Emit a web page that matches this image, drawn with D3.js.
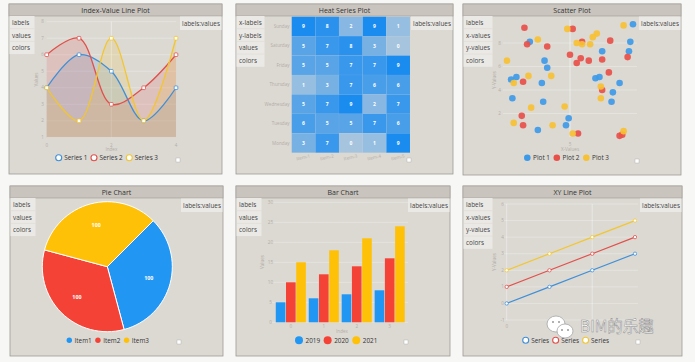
<!DOCTYPE html>
<html>
<head>
<meta charset="utf-8">
<script src="https://cdn.jsdelivr.net/npm/d3@7"></script>
<style>
  body { margin: 0; background: #f7f7f5; }
  svg { display: block; font-family: "Open Sans", sans-serif; }
</style>
</head>
<body>
<div id="vis"></div>
<script>
// ---------------- data ----------------
// Index-Value line plot
var lineIndex = [0, 1, 2, 3, 4];
var lineNames = ['Series 1', 'Series 2', 'Series 3'];
var lineSeries1 = [4, 6, 5, 2, 4];
var lineSeries2 = [6, 7, 3, 4, 6];
var lineSeries3 = [4, 2, 7, 2, 7];
var lineYTicks = [1, 2, 3, 4, 5, 6, 7, 8];
var lineXTicks = [0, 2, 4];

// Heat series plot
var heatXLabels = ['Item-1', 'Item-2', 'Item-3', 'Item-4', 'Item-5'];
var heatYLabels = ['Sunday', 'Saturday', 'Friday', 'Thursday', 'Wednesday', 'Tuesday', 'Monday'];
var heatSunday = [9, 8, 2, 9, 1];
var heatSaturday = [5, 7, 8, 3, 0];
var heatFriday = [5, 5, 7, 7, 9];
var heatThursday = [1, 3, 7, 6, 6];
var heatWednesday = [5, 7, 9, 2, 7];
var heatTuesday = [6, 5, 5, 7, 6];
var heatMonday = [3, 7, 0, 1, 9];

// Scatter plot
var scatterNames = ['Plot 1', 'Plot 2', 'Plot 3'];
var scatter1X = [9.7, 2.0, 9.5, 9.4, 7.4, 3.1, 3.3, 0.6, 1.0, 2.9, 6.9, 7.2, 8.7, 8.2, 0.7, 3.0, 8.1, 4.9, 4.7, 2.6];
var scatter1Y = [9.6, 8.1, 8.1, 7.3, 7.3, 6.5, 5.9, 4.9, 5.1, 4.6, 5.0, 5.1, 4.6, 3.8, 3.3, 3.0, 3.0, 1.6, 1.0, 0.6];
var scatter2X = [1.6, 5.2, 1.8, 3.3, 5.9, 8.0, 5.0, 5.5, 5.8, 6.4, 7.4, 9.3, 1.5, 7.9, 7.4, 1.4, 1.5, 5.6, 8.7, 8.9];
var scatter2Y = [9.3, 9.2, 7.9, 7.7, 8.1, 8.2, 7.0, 6.3, 6.7, 6.5, 6.6, 6.8, 4.7, 5.5, 4.0, 1.8, 1.0, 0.3, 0.1, 0.2];
var scatter3X = [9.0, 4.8, 2.6, 7.0, 6.7, 5.5, 5.9, 6.5, 0.3, 1.9, 0.8, 3.6, 7.3, 7.3, 2.1, 4.6, 0.8, 3.7, 5.2, 9.0];
var scatter3Y = [9.5, 9.2, 8.3, 8.8, 8.5, 8.0, 7.9, 7.9, 6.5, 5.2, 4.6, 5.2, 4.3, 3.3, 2.5, 2.6, 1.2, 1.0, 0.3, 0.5];
var scatterYTicks = [2, 4, 6, 8];
var scatterXTicks = [5];

// Pie chart
var pieLabels = ['Item1', 'Item2', 'Item3'];
var pieValues = [100, 100, 100];

// Bar chart
var barIndex = [0, 1, 2, 3];
var barNames = ['2019', '2020', '2021'];
var bar2019 = [5, 6, 7, 8];
var bar2020 = [10, 12, 14, 16];
var bar2021 = [15, 18, 21, 24];
var barYTicks = [0, 5, 10, 15, 20, 25, 30];

// XY line plot
var xyNames = ['Series', 'Series', 'Series'];
var xyX = [0, 1, 2, 3];
var xyY1 = [0, 1, 2, 3];
var xyY2 = [1, 2, 3, 4];
var xyY3 = [2, 3, 4, 5];
var xyYTicks = [-1, 0, 1, 2, 3, 4, 5, 6];
var xyXTicks = [0, 2];      // gridlines
var xyXLabels = [0];        // the "2" label sits under the watermark

// colours
var blue = '#2196f3', red = '#f44336', yellow = '#ffc107';
var lineBlue = '#3f8fd8', lineRed = '#e0504c', lineYellow = '#f2c62f';
var tickColor = '#b3aea6';

// ---------------- svg ----------------
var svg = d3.select('#vis').append('svg')
    .attr('width', 695)
    .attr('height', 362);

// draw a node frame (title bar, input labels, labels:values box, checkbox)
function panel(p) {
    var g = svg.append('g');
    g.append('rect')
        .attr('x', p.x).attr('y', p.y).attr('width', p.w).attr('height', p.h)
        .attr('fill', '#dcd9d3').attr('stroke', '#9f9b94').attr('stroke-width', 0.8);
    g.append('rect')
        .attr('x', p.x).attr('y', p.y).attr('width', p.w).attr('height', 12)
        .attr('fill', '#c9c5be').attr('stroke', '#9f9b94').attr('stroke-width', 0.6);
    g.append('text')
        .attr('x', p.x + p.w / 2).attr('y', p.y + 9)
        .attr('text-anchor', 'middle').attr('font-size', 7).attr('font-weight', 500)
        .attr('fill', '#333').text(p.title);

    // input port labels
    var rowH = 12.7;
    g.append('rect')
        .attr('x', p.x + 0.5).attr('y', p.y + 12).attr('width', p.lw).attr('height', rowH * p.inputs.length)
        .attr('fill', '#ebe9e5');
    p.inputs.forEach(function(s, i) {
        if (i > 0) {
            g.append('line')
                .attr('x1', p.x + 0.5).attr('x2', p.x + 0.5 + p.lw)
                .attr('y1', p.y + 12 + rowH * i).attr('y2', p.y + 12 + rowH * i)
                .attr('stroke', '#dcd9d3').attr('stroke-width', 0.6);
        }
        g.append('text')
            .attr('x', p.x + 3).attr('y', p.y + 12 + rowH * i + 8.8)
            .attr('font-size', 6.4).attr('fill', '#444').text(s);
    });

    // output port
    g.append('rect')
        .attr('x', p.x + p.w - 42).attr('y', p.y + 12.5).attr('width', 41.5).attr('height', 13.5)
        .attr('fill', '#ebe9e5');
    g.append('text')
        .attr('x', p.x + p.w - 21).attr('y', p.y + 21.8)
        .attr('text-anchor', 'middle').attr('font-size', 6.4).attr('fill', '#444').text('labels:values');

    // little checkbox
    g.append('rect')
        .attr('x', p.x + p.w - 46).attr('y', p.y + p.h - 16).attr('width', 4).attr('height', 4)
        .attr('fill', '#fff').attr('stroke', '#aaa').attr('stroke-width', 0.4);
    return g;
}

// legend laid out left to right
function legend(g, names, colors, x0, y, r, open) {
    var x = x0;
    names.forEach(function(n, i) {
        g.append('circle')
            .attr('cx', x + r).attr('cy', y).attr('r', r)
            .attr('fill', open ? '#fff' : colors[i])
            .attr('stroke', colors[i]).attr('stroke-width', open ? 1.1 : 0);
        var t = g.append('text')
            .attr('x', x + 2 * r + 2.5).attr('y', y + 2.3)
            .attr('font-size', 6.4).attr('fill', '#333').text(n);
        x = x + 2 * r + 2.5 + t.node().getComputedTextLength() + 3.5;
    });
}

function tickText(g, x, y, s, anchor, rot) {
    var t = g.append('text')
        .attr('x', x).attr('y', y)
        .attr('text-anchor', anchor || 'middle')
        .attr('font-size', 4.6).attr('fill', tickColor).text(s);
    if (rot) t.attr('transform', 'rotate(' + rot + ',' + x + ',' + y + ')');
    return t;
}

/************************ 1. Index-Value Line Plot ************************/
var g1 = panel({ x: 9, y: 4, w: 213, h: 170, title: 'Index-Value Line Plot', lw: 25, inputs: ['labels', 'values', 'colors'] });
var x1 = d3.scaleLinear().domain([0, 4]).range([46.7, 176]);
var y1 = d3.scaleLinear().domain([1, 8]).range([137.3, 21.7]);

lineYTicks.forEach(function(v) {
    g1.append('line').attr('x1', x1(0)).attr('x2', x1(4)).attr('y1', y1(v)).attr('y2', y1(v))
        .attr('stroke', '#fff').attr('stroke-opacity', 0.45).attr('stroke-width', 0.6);
    tickText(g1, 42.5, y1(v) + 1.6, v);
});
lineXTicks.forEach(function(v) {
    if (v === 2) {
        g1.append('line').attr('x1', x1(v)).attr('x2', x1(v)).attr('y1', y1(8)).attr('y2', y1(1))
            .attr('stroke', '#fff').attr('stroke-opacity', 0.6).attr('stroke-width', 0.7);
    }
    tickText(g1, x1(v), 146.5, v);
});
tickText(g1, x1(2), 151, 'Index');
tickText(g1, 38, (y1(1) + y1(8)) / 2, 'Values', 'middle', -90);

var lineSets = [
    { vals: lineSeries1, color: lineBlue, fill: '#3f8fd8' },
    { vals: lineSeries2, color: lineRed, fill: '#e0504c' },
    { vals: lineSeries3, color: lineYellow, fill: '#f2c62f' }
];
var area1 = d3.area().curve(d3.curveCatmullRom.alpha(0.5))
    .x(function(d, i) { return x1(lineIndex[i]); })
    .y0(y1(1))
    .y1(function(d) { return y1(d); });
var line1 = d3.line().curve(d3.curveCatmullRom.alpha(0.5))
    .x(function(d, i) { return x1(lineIndex[i]); })
    .y(function(d) { return y1(d); });
lineSets.forEach(function(s) {
    g1.append('path').attr('d', area1(s.vals)).attr('fill', s.fill).attr('fill-opacity', 0.17);
});
lineSets.forEach(function(s) {
    g1.append('path').attr('d', line1(s.vals)).attr('fill', 'none')
        .attr('stroke', s.color).attr('stroke-width', 1.3);
    g1.selectAll(null).data(s.vals).enter().append('rect')
        .attr('x', function(d, i) { return x1(lineIndex[i]) - 1.8; })
        .attr('y', function(d) { return y1(d) - 1.8; })
        .attr('width', 3.6).attr('height', 3.6).attr('rx', 0.8)
        .attr('fill', '#fff').attr('stroke', s.color).attr('stroke-width', 0.8);
});
legend(g1, lineNames, [lineBlue, lineRed, lineYellow], 55.7, 157.7, 3, true);

/************************ 2. Heat Series Plot ************************/
var g2 = panel({ x: 236, y: 4, w: 217, h: 170, title: 'Heat Series Plot', lw: 28, inputs: ['x-labels', 'y-labels', 'values', 'colors'] });
var heatRows = [heatSunday, heatSaturday, heatFriday, heatThursday, heatWednesday, heatTuesday, heatMonday];
var x2 = d3.scaleBand().domain(heatXLabels).range([291.7, 410]);
var y2 = d3.scaleBand().domain(heatYLabels).range([16.7, 152.7]);
var heatColor = d3.scaleLinear().domain([0, 9]).range(['#a6c4de', '#1a8bef']);

heatRows.forEach(function(row, r) {
    var day = heatYLabels[r];
    g2.selectAll(null).data(row).enter().append('rect')
        .attr('x', function(d, i) { return x2(heatXLabels[i]); })
        .attr('y', y2(day))
        .attr('width', x2.bandwidth()).attr('height', y2.bandwidth())
        .attr('fill', function(d) { return heatColor(d); })
        .attr('stroke', '#fff').attr('stroke-opacity', 0.07).attr('stroke-width', 0.5);
    g2.selectAll(null).data(row).enter().append('text')
        .attr('x', function(d, i) { return x2(heatXLabels[i]) + x2.bandwidth() / 2; })
        .attr('y', y2(day) + y2.bandwidth() / 2 + 1.8)
        .attr('text-anchor', 'middle').attr('font-size', 5).attr('font-weight', 700)
        .attr('fill', '#fff').text(function(d) { return d; });
    tickText(g2, 289.5, y2(day) + y2.bandwidth() / 2 + 1.6, day, 'end');
});
heatXLabels.forEach(function(s) {
    tickText(g2, x2(s) + x2.bandwidth() / 2, 159, s, 'middle', -12);
});

/************************ 3. Scatter Plot ************************/
var g3 = panel({ x: 463, y: 4, w: 218, h: 171, title: 'Scatter Plot', lw: 29, inputs: ['labels', 'x-values', 'y-values', 'colors'] });
var x3 = d3.scaleLinear().domain([0, 10]).range([503, 637]);
var y3 = d3.scaleLinear().domain([0, 10]).range([137, 19.5]);
scatterYTicks.forEach(function(v) {
    g3.append('line').attr('x1', x3(0)).attr('x2', x3(10)).attr('y1', y3(v)).attr('y2', y3(v))
        .attr('stroke', '#fff').attr('stroke-opacity', 0.45).attr('stroke-width', 0.6);
    tickText(g3, 499.5, y3(v) + 1.6, v);
});
scatterXTicks.forEach(function(v) {
    g3.append('line').attr('x1', x3(v)).attr('x2', x3(v)).attr('y1', y3(10)).attr('y2', y3(0))
        .attr('stroke', '#fff').attr('stroke-opacity', 0.7).attr('stroke-width', 0.7);
    tickText(g3, x3(v), 145.5, v);
});
tickText(g3, x3(5), 150.5, 'X-Values');
tickText(g3, 495.5, 80, 'Y-Values', 'middle', -90);

var scatterSets = [
    { xs: scatter1X, ys: scatter1Y, color: '#3d9ae8' },
    { xs: scatter2X, ys: scatter2Y, color: '#e8504a' },
    { xs: scatter3X, ys: scatter3Y, color: '#f7c133' }
];
scatterSets.forEach(function(s) {
    g3.selectAll(null).data(s.xs).enter().append('circle')
        .attr('cx', function(d) { return x3(d); })
        .attr('cy', function(d, i) { return y3(s.ys[i]); })
        .attr('r', 3.3)
        .attr('fill', s.color).attr('fill-opacity', 0.92);
});
legend(g3, scatterNames, ['#3d9ae8', '#e8504a', '#f7c133'], 524, 157.7, 3.3, false);

/************************ 4. Pie Chart ************************/
var g4 = panel({ x: 10, y: 186, w: 213, h: 170, title: 'Pie Chart', lw: 25, inputs: ['labels', 'values', 'colors'] });
var pieColors = [blue, red, yellow];
var pie = d3.pie().sort(null)
    .startAngle(Math.PI / 4).endAngle(Math.PI / 4 + 2 * Math.PI);
var arc = d3.arc().innerRadius(0).outerRadius(65);
var labelArc = d3.arc().innerRadius(43).outerRadius(43);
var pg = g4.append('g').attr('transform', 'translate(107.3,266.7)');
pg.selectAll('path').data(pie(pieValues)).enter().append('path')
    .attr('d', arc)
    .attr('fill', function(d, i) { return pieColors[i]; })
    .attr('stroke', '#fff').attr('stroke-width', 1);
pg.selectAll('text').data(pie(pieValues)).enter().append('text')
    .attr('transform', function(d) { return 'translate(' + labelArc.centroid(d) + ')'; })
    .attr('dy', 2)
    .attr('text-anchor', 'middle').attr('font-size', 5.3).attr('font-weight', 700)
    .attr('fill', '#fff').text(function(d) { return d.value; });
legend(g4, pieLabels, pieColors, 66.6, 340.3, 2.7, false);

/************************ 5. Bar Chart ************************/
var g5 = panel({ x: 236, y: 186, w: 214, h: 170, title: 'Bar Chart', lw: 25, inputs: ['labels', 'values', 'colors'] });
var x5 = d3.scaleBand().domain(barIndex).range([274.5, 406]).paddingInner(0.05).paddingOuter(0.02);
var x5sub = d3.scaleBand().domain(barNames).range([0, x5.bandwidth()]).padding(0.06);
var y5 = d3.scaleLinear().domain([0, 30]).range([322.3, 202.3]);
barYTicks.forEach(function(v) {
    g5.append('line').attr('x1', 272).attr('x2', 408).attr('y1', y5(v)).attr('y2', y5(v))
        .attr('stroke', '#fff').attr('stroke-opacity', 0.45).attr('stroke-width', 0.6);
    tickText(g5, 270.5, y5(v) + 1.6, v);
});
barIndex.forEach(function(v) {
    tickText(g5, x5(v) + x5.bandwidth() / 2, 327.5, v);
});
tickText(g5, 342, 332.5, 'Index');
tickText(g5, 264, 262, 'Values', 'middle', -90);
var barSets = [bar2019, bar2020, bar2021];
var barColors = [blue, red, yellow];
barSets.forEach(function(vals, k) {
    g5.selectAll(null).data(vals).enter().append('rect')
        .attr('x', function(d, i) { return x5(barIndex[i]) + x5sub(barNames[k]); })
        .attr('y', function(d) { return y5(d); })
        .attr('width', x5sub.bandwidth())
        .attr('height', function(d) { return y5(0) - y5(d); })
        .attr('fill', barColors[k]);
});
legend(g5, barNames, barColors, 295, 340.3, 4, false);

/************************ 6. XY Line Plot ************************/
var g6 = panel({ x: 463, y: 186, w: 219, h: 170, title: 'XY Line Plot', lw: 29, inputs: ['labels', 'x-values', 'y-values', 'colors'] });
var x6 = d3.scaleLinear().domain([0, 3]).range([506.7, 635]);
var y6 = d3.scaleLinear().domain([-1, 6]).range([320, 204]);
xyYTicks.forEach(function(v) {
    g6.append('line').attr('x1', 504).attr('x2', 638).attr('y1', y6(v)).attr('y2', y6(v))
        .attr('stroke', '#fff').attr('stroke-opacity', 0.45).attr('stroke-width', 0.6);
    tickText(g6, 502.5, y6(v) + 1.6, v);
});
xyXTicks.forEach(function(v) {
    g6.append('line').attr('x1', x6(v)).attr('x2', x6(v)).attr('y1', y6(6)).attr('y2', y6(-1))
        .attr('stroke', '#fff').attr('stroke-opacity', 0.55).attr('stroke-width', 0.7);
});
xyXLabels.forEach(function(v) {
    tickText(g6, x6(v), 328, v);
});
tickText(g6, 496, 262, 'Y-Values', 'middle', -90);
var xySets = [
    { ys: xyY1, color: lineBlue },
    { ys: xyY2, color: lineRed },
    { ys: xyY3, color: lineYellow }
];
var line6 = d3.line()
    .x(function(d, i) { return x6(xyX[i]); })
    .y(function(d) { return y6(d); });
xySets.forEach(function(s) {
    g6.append('path').attr('d', line6(s.ys)).attr('fill', 'none')
        .attr('stroke', s.color).attr('stroke-width', 1.2);
    g6.selectAll(null).data(s.ys).enter().append('circle')
        .attr('cx', function(d, i) { return x6(xyX[i]); })
        .attr('cy', function(d) { return y6(d); })
        .attr('r', 1.7)
        .attr('fill', '#fff').attr('stroke', s.color).attr('stroke-width', 0.8);
});
legend(g6, xyNames, [lineBlue, lineRed, lineYellow], 522.7, 340.3, 3, true);

/************************ watermark ************************/
var wm = svg.append('g');
wm.append('ellipse').attr('cx', 556).attr('cy', 324).attr('rx', 9).attr('ry', 8)
    .attr('fill', '#fff').attr('stroke', '#a5a5a5').attr('stroke-width', 0.8);
wm.append('ellipse').attr('cx', 565).attr('cy', 331).attr('rx', 8).attr('ry', 7)
    .attr('fill', '#fff').attr('stroke', '#a5a5a5').attr('stroke-width', 0.8);
wm.selectAll(null).data([[553, 322], [559, 322], [562, 330], [568, 330]]).enter().append('circle')
    .attr('cx', function(d) { return d[0]; }).attr('cy', function(d) { return d[1]; })
    .attr('r', 1).attr('fill', '#999');
wm.append('text')
    .attr('x', 580).attr('y', 332)
    .attr('font-family', '"Noto Sans CJK SC", sans-serif')
    .attr('font-size', 15.5)
    .attr('fill', '#fff').attr('stroke', '#8d8d8d').attr('stroke-width', 0.5)
    .text('BIM的乐趣');
</script>
</body>
</html>
